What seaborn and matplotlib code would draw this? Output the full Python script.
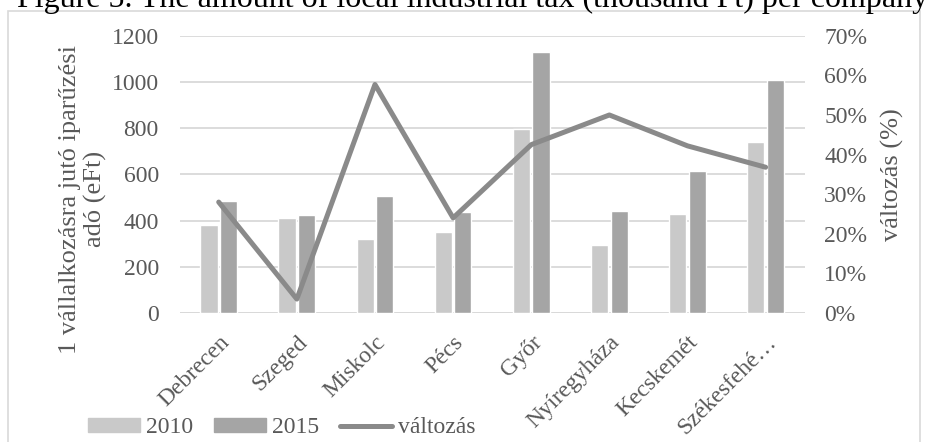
import numpy as np
import pandas as pd
import seaborn as sns
import matplotlib.pyplot as plt
from matplotlib.patches import Patch, Rectangle
from matplotlib.lines import Line2D
from matplotlib.ticker import PercentFormatter

cities = ['Debrecen', 'Szeged', 'Miskolc', 'Pécs', 'Győr',
          'Nyíregyháza', 'Kecskemét', 'Székesfehé…']
tax_2010 = [380, 410, 320, 350, 795, 295, 430, 740]
tax_2015 = [485, 423, 507, 438, 1130, 443, 614, 1010]
change_pct = [0.28, 0.035, 0.577, 0.24, 0.425, 0.50, 0.422, 0.368]

c2010 = '#c9c9c9'
c2015 = '#a5a5a5'
cline = '#8a8a8a'
txt = '#595959'

df = pd.DataFrame({
    'city': cities * 2,
    'year': ['2010'] * len(cities) + ['2015'] * len(cities),
    'tax': tax_2010 + tax_2015,
})

sns.set_style('white')
plt.rcParams['font.family'] = ['Liberation Serif', 'DejaVu Serif']
plt.rcParams['text.color'] = txt
plt.rcParams['axes.labelcolor'] = txt
plt.rcParams['xtick.color'] = txt
plt.rcParams['ytick.color'] = txt

fs = 17
fig = plt.figure(figsize=(9.26, 4.42), dpi=100)
ax = fig.add_axes([0.194, 0.292, 0.675, 0.627])

sns.barplot(data=df, x='city', y='tax', hue='year', palette=[c2010, c2015],
            width=0.5, gap=0.12, ax=ax, legend=False)
ax.set_ylim(0, 1200)
ax.set_yticks(range(0, 1201, 200))
ax.yaxis.grid(True, color='#d9d9d9', linewidth=1.3)
ax.set_axisbelow(True)
for s in ax.spines.values():
    s.set_visible(False)
ax.tick_params(axis='both', length=0, labelsize=fs)
ax.tick_params(axis='y', pad=15)
ax.set_xlabel('')
ax.set_ylabel('1 vállalkozásra jutó iparűzési\nadó (eFt)', fontsize=19,
              linespacing=1.15)
ax.yaxis.set_label_coords(-0.117, 0.41)

ax2 = ax.twinx()
sns.lineplot(x=np.arange(len(cities)), y=change_pct, color=cline,
             linewidth=3.6, ax=ax2, sort=False)
ax2.set_ylim(0, 0.70)
ax2.set_yticks(np.arange(0, 0.71, 0.1))
ax2.yaxis.set_major_formatter(PercentFormatter(1.0, decimals=0))
for s in ax2.spines.values():
    s.set_visible(False)
ax2.tick_params(axis='y', length=0, labelsize=fs, pad=14)
ax2.set_ylabel('változás (%)', fontsize=19, labelpad=10)
ax.axhline(0, color='#d9d9d9', linewidth=1.3, zorder=0)

ax.set_xlim(-0.5, len(cities) - 0.5)
ax.set_xticks(range(len(cities)))
ax.set_xticklabels(cities, rotation=45, ha='right', rotation_mode='anchor',
                   fontsize=17)
ax.tick_params(axis='x', pad=13.5)

handles = [Patch(color=c2010), Patch(color=c2015),
           Line2D([0], [0], color=cline, linewidth=3.6)]
fig.legend(handles, ['2010', '2015', 'változás'], loc='lower left',
           bbox_to_anchor=(0.072, -0.04), ncol=3, frameon=False,
           fontsize=fs, handlelength=2.2, handleheight=0.5,
           handletextpad=0.25, columnspacing=0.9)

fig.add_artist(Rectangle((0.009, -0.01), 0.984, 0.984, transform=fig.transFigure,
                         fill=False, edgecolor='#d9d9d9', linewidth=1.2))
fig.text(17 / 926, 1 - 7 / 442,
         'Figure 5. The amount of local industrial tax (thousand Ft) per company',
         fontsize=23, color='black', ha='left', va='baseline')

fig.savefig('out.png', dpi=100)
